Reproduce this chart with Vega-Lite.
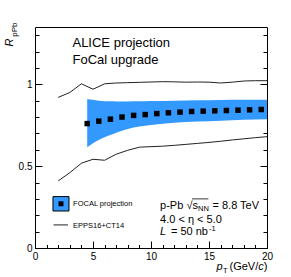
{
  "$schema": "https://vega.github.io/schema/vega-lite/v6.json",
  "width": 232,
  "height": 221,
  "autosize": {"type": "none"},
  "padding": {"left": 35, "top": 27, "right": 24, "bottom": 29},
  "background": "white",
  "config": {
    "view": {"stroke": "black", "strokeWidth": 1},
    "axis": {"grid": false, "domain": false, "labelFont": "Liberation Sans", "labelFontSize": 10, "labelColor": "black", "tickColor": "black", "tickWidth": 1},
    "text": {"font": "Liberation Sans", "color": "black"}
  },
  "datasets": {
    "band": [
      {"x": 4.5, "lo": 0.615, "hi": 0.91},
      {"x": 5, "lo": 0.64, "hi": 0.905},
      {"x": 5.5, "lo": 0.66, "hi": 0.9},
      {"x": 6, "lo": 0.676, "hi": 0.897},
      {"x": 6.5, "lo": 0.69, "hi": 0.896},
      {"x": 7, "lo": 0.704, "hi": 0.895},
      {"x": 8, "lo": 0.727, "hi": 0.895},
      {"x": 9, "lo": 0.742, "hi": 0.896},
      {"x": 10, "lo": 0.752, "hi": 0.898},
      {"x": 12, "lo": 0.765, "hi": 0.9},
      {"x": 14, "lo": 0.772, "hi": 0.902},
      {"x": 16, "lo": 0.778, "hi": 0.904},
      {"x": 18, "lo": 0.783, "hi": 0.905},
      {"x": 20, "lo": 0.787, "hi": 0.906}
    ],
    "points": [
      {"x": 4.5, "y": 0.76}, {"x": 5.5, "y": 0.775}, {"x": 6.5, "y": 0.787}, {"x": 7.5, "y": 0.8},
      {"x": 8.5, "y": 0.81}, {"x": 9.5, "y": 0.815}, {"x": 10.5, "y": 0.821}, {"x": 11.5, "y": 0.826},
      {"x": 12.5, "y": 0.83}, {"x": 13.5, "y": 0.834}, {"x": 14.5, "y": 0.836}, {"x": 15.5, "y": 0.838},
      {"x": 16.5, "y": 0.84}, {"x": 17.5, "y": 0.842}, {"x": 18.5, "y": 0.844}, {"x": 19.5, "y": 0.846}
    ],
    "curves": [
      {"curve": "upper", "x": 2, "y": 0.92}, {"curve": "upper", "x": 3, "y": 0.95}, {"curve": "upper", "x": 4, "y": 1.003},
      {"curve": "upper", "x": 5, "y": 0.97}, {"curve": "upper", "x": 6, "y": 1.003}, {"curve": "upper", "x": 7, "y": 1.008},
      {"curve": "upper", "x": 8, "y": 1.01}, {"curve": "upper", "x": 9, "y": 1.012}, {"curve": "upper", "x": 10, "y": 1.014},
      {"curve": "upper", "x": 11, "y": 1.016}, {"curve": "upper", "x": 12, "y": 1.015}, {"curve": "upper", "x": 13, "y": 1.013},
      {"curve": "upper", "x": 14, "y": 1.014}, {"curve": "upper", "x": 15, "y": 1.013}, {"curve": "upper", "x": 16, "y": 1.008},
      {"curve": "upper", "x": 17, "y": 1.013}, {"curve": "upper", "x": 18, "y": 1.02}, {"curve": "upper", "x": 19, "y": 1.022},
      {"curve": "upper", "x": 20, "y": 1.022},
      {"curve": "lower", "x": 2, "y": 0.41}, {"curve": "lower", "x": 3, "y": 0.46}, {"curve": "lower", "x": 4, "y": 0.518},
      {"curve": "lower", "x": 5, "y": 0.542}, {"curve": "lower", "x": 6, "y": 0.536}, {"curve": "lower", "x": 7, "y": 0.573},
      {"curve": "lower", "x": 8, "y": 0.597}, {"curve": "lower", "x": 9, "y": 0.616}, {"curve": "lower", "x": 10, "y": 0.619},
      {"curve": "lower", "x": 11, "y": 0.622}, {"curve": "lower", "x": 12, "y": 0.627}, {"curve": "lower", "x": 13, "y": 0.633},
      {"curve": "lower", "x": 14, "y": 0.639}, {"curve": "lower", "x": 15, "y": 0.645}, {"curve": "lower", "x": 16, "y": 0.652},
      {"curve": "lower", "x": 17, "y": 0.66}, {"curve": "lower", "x": 18, "y": 0.667}, {"curve": "lower", "x": 19, "y": 0.674},
      {"curve": "lower", "x": 20, "y": 0.68}
    ],
    "legendbox": [{"x": 1.55, "x2": 2.93, "y": 0.226, "y2": 0.314}],
    "legendmarker": [{"x": 2.24, "y": 0.27}],
    "legendline": [{"x": 1.6, "x2": 2.85, "y": 0.141}],
    "text13": [
      {"x": 3.23, "y": 1.229, "label": "ALICE projection"},
      {"x": 3.23, "y": 1.125, "label": "FoCal upgrade"}
    ],
    "text11": [
      {"x": 10.78, "y": 0.2385, "label": "p-Pb"},
      {"x": 13.06, "y": 0.2385, "label": "√"},
      {"x": 13.58, "y": 0.2385, "label": "s"},
      {"x": 15.3, "y": 0.2385, "label": "= 8.8 TeV"},
      {"x": 10.78, "y": 0.153, "label": "4.0 < η < 5.0"},
      {"x": 11.72, "y": 0.0796, "label": "= 50 nb"},
      {"x": 16.77, "y": -0.1346, "label": "(GeV/"},
      {"x": 19.72, "y": -0.1346, "label": ")"}
    ],
    "text11i": [
      {"x": 10.78, "y": 0.0796, "label": "L"},
      {"x": 15.65, "y": -0.1346, "label": "p"},
      {"x": 19.24, "y": -0.1346, "label": "c"}
    ],
    "text75": [
      {"x": 14.05, "y": 0.2263, "label": "NN"},
      {"x": 15.0, "y": 0.104, "label": "-1"},
      {"x": 16.2, "y": -0.153, "label": "T"},
      {"x": 3.28, "y": 0.2557, "label": "FOCAL projection"},
      {"x": 3.28, "y": 0.124, "label": "EPPS16+CT14"}
    ],
    "overline": [{"x": 13.53, "x2": 14.95, "y": 0.3}],
    "ytitleR": [{"x": -1.87, "y": 1.231, "label": "R"}],
    "ytitleSub": [{"x": -1.51, "y": 1.29, "label": "pPb"}]
  },
  "resolve": {"axis": {"x": "independent", "y": "independent"}},
  "layer": [
    {
      "data": {"name": "band"},
      "mark": {"type": "area", "color": "#3399ff", "interpolate": "monotone", "opacity": 1},
      "encoding": {
        "x": {"field": "x", "type": "quantitative", "scale": {"domain": [0, 20], "nice": false, "zero": false},
              "axis": {"orient": "bottom", "values": [0, 5, 10, 15, 20], "ticks": false, "labelPadding": 3, "labelFlush": false, "title": null}},
        "y": {"field": "lo", "type": "quantitative", "scale": {"domain": [0, 1.35], "nice": false, "zero": false},
              "axis": {"orient": "left", "values": [0, 0.5, 1], "format": "~g", "ticks": false, "labelPadding": 3, "title": null}},
        "y2": {"field": "hi"}
      }
    },
    {
      "data": {"name": "points"},
      "mark": {"type": "point", "shape": "square", "filled": true, "color": "black", "size": 30, "opacity": 1},
      "encoding": {
        "x": {"field": "x", "type": "quantitative", "scale": {"domain": [0, 20], "nice": false, "zero": false},
              "axis": {"orient": "bottom", "values": [0, 5, 10, 15, 20], "tickSize": -7, "labels": false, "title": null}},
        "y": {"field": "y", "type": "quantitative", "scale": {"domain": [0, 1.35], "nice": false, "zero": false},
              "axis": {"orient": "left", "values": [0, 0.5, 1], "tickSize": -7, "labels": false, "title": null}}
      }
    },
    {
      "data": {"name": "curves"},
      "mark": {"type": "line", "color": "#222222", "strokeWidth": 1},
      "encoding": {
        "x": {"field": "x", "type": "quantitative", "scale": {"domain": [0, 20], "nice": false, "zero": false},
              "axis": {"orient": "bottom", "values": [0,1,2,3,4,5,6,7,8,9,10,11,12,13,14,15,16,17,18,19,20], "tickSize": -3.5, "labels": false, "title": null}},
        "y": {"field": "y", "type": "quantitative", "scale": {"domain": [0, 1.35], "nice": false, "zero": false},
              "axis": {"orient": "left", "values": [0,0.1,0.2,0.3,0.4,0.5,0.6,0.7,0.8,0.9,1,1.1,1.2,1.3], "tickSize": -4, "labels": false, "title": null}},
        "detail": {"field": "curve"}
      }
    },
    {
      "data": {"name": "legendbox"},
      "mark": {"type": "rect", "fill": "#3399ff", "stroke": "black", "strokeWidth": 1},
      "encoding": {
        "x": {"field": "x", "type": "quantitative", "scale": {"domain": [0, 20], "nice": false, "zero": false}, "axis": null},
        "x2": {"field": "x2"},
        "y": {"field": "y", "type": "quantitative", "scale": {"domain": [0, 1.35], "nice": false, "zero": false},
              "axis": {"orient": "right", "values": [0, 0.5, 1], "tickSize": -7, "labels": false, "title": null}},
        "y2": {"field": "y2"}
      }
    },
    {
      "data": {"name": "legendmarker"},
      "mark": {"type": "point", "shape": "square", "filled": true, "color": "black", "size": 25, "opacity": 1},
      "encoding": {
        "x": {"field": "x", "type": "quantitative", "scale": {"domain": [0, 20], "nice": false, "zero": false}, "axis": null},
        "y": {"field": "y", "type": "quantitative", "scale": {"domain": [0, 1.35], "nice": false, "zero": false},
              "axis": {"orient": "right", "values": [0,0.1,0.2,0.3,0.4,0.5,0.6,0.7,0.8,0.9,1,1.1,1.2,1.3], "tickSize": -4, "labels": false, "title": null}}
      }
    },
    {
      "data": {"name": "legendline"},
      "mark": {"type": "rule", "color": "#222222", "strokeWidth": 1},
      "encoding": {
        "x": {"field": "x", "type": "quantitative", "scale": {"domain": [0, 20], "nice": false, "zero": false}, "axis": null},
        "x2": {"field": "x2"},
        "y": {"field": "y", "type": "quantitative", "scale": {"domain": [0, 1.35], "nice": false, "zero": false}, "axis": null}
      }
    },
    {
      "data": {"name": "overline"},
      "mark": {"type": "rule", "color": "black", "strokeWidth": 0.8},
      "encoding": {
        "x": {"field": "x", "type": "quantitative", "scale": {"domain": [0, 20], "nice": false, "zero": false}, "axis": null},
        "x2": {"field": "x2"},
        "y": {"field": "y", "type": "quantitative", "scale": {"domain": [0, 1.35], "nice": false, "zero": false}, "axis": null}
      }
    },
    {
      "data": {"name": "text13"},
      "mark": {"type": "text", "fontSize": 13, "align": "left", "baseline": "alphabetic"},
      "encoding": {
        "x": {"field": "x", "type": "quantitative", "scale": {"domain": [0, 20], "nice": false, "zero": false}, "axis": null},
        "y": {"field": "y", "type": "quantitative", "scale": {"domain": [0, 1.35], "nice": false, "zero": false}, "axis": null},
        "text": {"field": "label"}
      }
    },
    {
      "data": {"name": "text11"},
      "mark": {"type": "text", "fontSize": 11, "align": "left", "baseline": "alphabetic"},
      "encoding": {
        "x": {"field": "x", "type": "quantitative", "scale": {"domain": [0, 20], "nice": false, "zero": false}, "axis": null},
        "y": {"field": "y", "type": "quantitative", "scale": {"domain": [0, 1.35], "nice": false, "zero": false}, "axis": null},
        "text": {"field": "label"}
      }
    },
    {
      "data": {"name": "text11i"},
      "mark": {"type": "text", "fontSize": 11, "fontStyle": "italic", "align": "left", "baseline": "alphabetic"},
      "encoding": {
        "x": {"field": "x", "type": "quantitative", "scale": {"domain": [0, 20], "nice": false, "zero": false}, "axis": null},
        "y": {"field": "y", "type": "quantitative", "scale": {"domain": [0, 1.35], "nice": false, "zero": false}, "axis": null},
        "text": {"field": "label"}
      }
    },
    {
      "data": {"name": "text75"},
      "mark": {"type": "text", "fontSize": 7.5, "align": "left", "baseline": "alphabetic"},
      "encoding": {
        "x": {"field": "x", "type": "quantitative", "scale": {"domain": [0, 20], "nice": false, "zero": false}, "axis": null},
        "y": {"field": "y", "type": "quantitative", "scale": {"domain": [0, 1.35], "nice": false, "zero": false}, "axis": null},
        "text": {"field": "label"}
      }
    },
    {
      "data": {"name": "ytitleR"},
      "mark": {"type": "text", "fontSize": 11, "fontStyle": "italic", "angle": 270, "align": "left", "baseline": "alphabetic"},
      "encoding": {
        "x": {"field": "x", "type": "quantitative", "scale": {"domain": [0, 20], "nice": false, "zero": false}, "axis": null},
        "y": {"field": "y", "type": "quantitative", "scale": {"domain": [0, 1.35], "nice": false, "zero": false}, "axis": null},
        "text": {"field": "label"}
      }
    },
    {
      "data": {"name": "ytitleSub"},
      "mark": {"type": "text", "fontSize": 8, "angle": 270, "align": "left", "baseline": "alphabetic"},
      "encoding": {
        "x": {"field": "x", "type": "quantitative", "scale": {"domain": [0, 20], "nice": false, "zero": false}, "axis": null},
        "y": {"field": "y", "type": "quantitative", "scale": {"domain": [0, 1.35], "nice": false, "zero": false}, "axis": null},
        "text": {"field": "label"}
      }
    }
  ]
}
